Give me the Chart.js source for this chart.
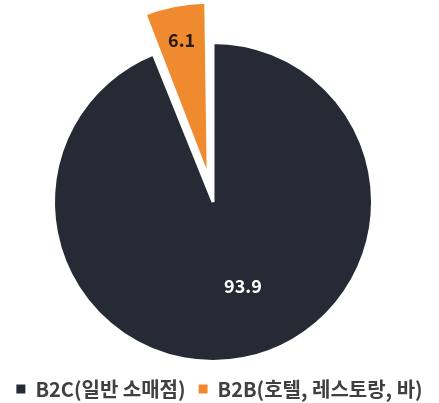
<!DOCTYPE html>
<html>
<head>
<meta charset="utf-8">
<script src="https://cdn.jsdelivr.net/npm/chart.js@4"></script>
<style>
  html, body { margin: 0; padding: 0; background: #ffffff; }
  #wrap { width: 439px; height: 403px; }
</style>
</head>
<body>
<div id="wrap"><canvas id="chart" width="439" height="403"></canvas></div>
<script>
// 판매 채널별 비중 (%)
const labels = ['B2C(일반 소매점)', 'B2B(호텔, 레스토랑, 바)'];
const shares = [93.9, 6.1];
const sliceColors = ['#252a34', '#f08a2e'];
const labelColors = ['#ffffff', '#2a1a10'];
const explode = [0, 100];

const FONT = '"Noto Sans CJK KR", "Noto Sans", sans-serif';

// 조각 위에 값 표시 + 파이 위치 보정
const valueLabels = {
    id: 'valueLabels',
    afterLayout(chart) {
        // 파이 중심을 조금 왼쪽으로 (범례는 전체 폭 사용)
        chart.chartArea.right -= 13;
    },
    afterDatasetsDraw(chart) {
        const ctx = chart.ctx;
        const meta = chart.getDatasetMeta(0);
        ctx.save();
        ctx.font = 'bold 18px ' + FONT;
        ctx.textAlign = 'center';
        ctx.textBaseline = 'middle';
        meta.data.forEach((arc, i) => {
            const p = arc.getProps(['x', 'y', 'startAngle', 'endAngle', 'outerRadius', 'circumference']);
            let mid = (p.startAngle + p.endAngle) / 2;
            let r;
            if (explode[i] > 0) {
                // Chart.js arc 가 실제로 밀려나는 거리
                const fix = 1 - Math.sin(Math.min(Math.PI, p.circumference));
                const shift = explode[i] / 4 * (1 + fix);
                r = shift + p.outerRadius * 0.78;
            } else {
                r = p.outerRadius * 0.56;
                mid -= 0.15;
            }
            ctx.fillStyle = labelColors[i];
            ctx.fillText(shares[i].toFixed(1), p.x + Math.cos(mid) * r, p.y + Math.sin(mid) * r);
        });
        ctx.restore();
    }
};

new Chart(document.getElementById('chart'), {
    type: 'pie',
    data: {
        labels: labels,
        datasets: [{
            data: shares,
            backgroundColor: sliceColors,
            borderColor: '#ffffff',
            borderWidth: 3,
            offset: explode,
            clip: false
        }]
    },
    options: {
        responsive: false,
        animation: false,
        radius: 159.5,
        layout: { padding: { left: 0, right: 0, top: 38, bottom: -6 } },
        plugins: {
            legend: {
                position: 'bottom',
                labels: {
                    color: '#404040',
                    font: { family: FONT, size: 20, weight: 'bold' },
                    boxWidth: 9,
                    boxHeight: 9,
                    padding: 13,
                    // 범례 상자에는 흰 테두리 없이
                    generateLabels(chart) {
                        const items = Chart.overrides.pie.plugins.legend.labels.generateLabels(chart);
                        items.forEach(item => { item.lineWidth = 0; });
                        return items;
                    }
                }
            },
            tooltip: { enabled: false }
        }
    },
    plugins: [valueLabels]
});
</script>
</body>
</html>
